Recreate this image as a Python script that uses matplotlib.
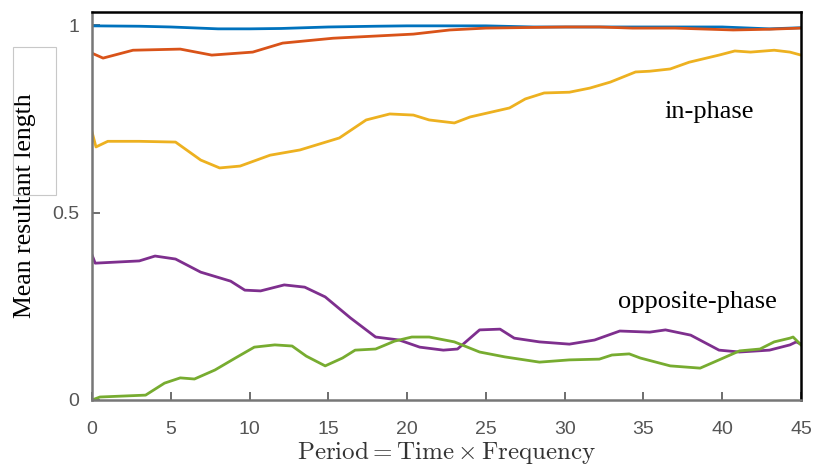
import numpy as np
import matplotlib
matplotlib.use("Agg")
import matplotlib.pyplot as plt
from matplotlib.patches import Rectangle

# mean resultant length vs period, five phase conditions
blue_x = [0, 3, 5, 8, 10, 12, 15, 18, 20, 25, 28, 30, 35, 40, 43, 45]
blue_y = [0.998, 0.997, 0.995, 0.990, 0.990, 0.991, 0.995, 0.997, 0.998, 0.998, 0.995, 0.995, 0.995, 0.995, 0.990, 0.993]

red_x = [0, 0.7, 2.6, 5.6, 7.6, 10.2, 12.1, 15.3, 20.4, 22.7, 25, 30.1, 32.2, 34.3, 37, 40.7, 43, 45]
red_y = [0.925, 0.912, 0.933, 0.936, 0.920, 0.928, 0.952, 0.965, 0.976, 0.987, 0.992, 0.995, 0.995, 0.992, 0.992, 0.987, 0.989, 0.992]

yellow_x = [0, 0.25, 1, 3, 5.3, 6.9, 8.1, 9.4, 11.3, 13.2, 15.7, 17.4, 18.9, 20.4, 21.4, 23.0, 24, 26.5,
            27.5, 28.7, 30.3, 31.6, 32.9, 34.5, 35.4, 36.7, 37.9, 39.8, 40.8, 41.8, 43.3, 44.3, 45]
yellow_y = [0.715, 0.675, 0.690, 0.690, 0.688, 0.640, 0.619, 0.624, 0.653, 0.667, 0.699, 0.747, 0.763, 0.760,
            0.747, 0.739, 0.755, 0.779, 0.803, 0.819, 0.821, 0.832, 0.848, 0.875, 0.877, 0.883, 0.901, 0.920,
            0.931, 0.928, 0.933, 0.928, 0.920]

purple_x = [0, 0.2, 3, 4, 5.3, 6.9, 8.8, 9.7, 10.7, 12.2, 13.5, 14.8, 16.4, 18.0, 19.5, 20.8, 22.3, 23.2,
            24.6, 25.9, 26.8, 28.4, 30.3, 31.9, 33.5, 35.4, 36.4, 38.0, 39.8, 41.1, 43, 44.3, 44.7, 45]
purple_y = [0.387, 0.365, 0.371, 0.384, 0.376, 0.341, 0.317, 0.293, 0.291, 0.307, 0.301, 0.275, 0.219, 0.168,
            0.160, 0.141, 0.133, 0.136, 0.187, 0.189, 0.165, 0.155, 0.149, 0.160, 0.184, 0.181, 0.187, 0.173,
            0.133, 0.128, 0.133, 0.147, 0.155, 0.149]

green_x = [0, 0.5, 3.4, 4.6, 5.6, 6.5, 7.8, 9.1, 10.3, 11.6, 12.7, 13.6, 14.8, 15.9, 16.7, 18.0, 19.2, 20.3,
           21.4, 23.0, 24.6, 26.2, 28.4, 30.3, 32.2, 33, 34.1, 34.8, 36.7, 38.6, 39.8, 41.1, 42.4, 43.3, 44.3,
           44.5, 45]
green_y = [0.0, 0.008, 0.013, 0.045, 0.059, 0.056, 0.080, 0.112, 0.141, 0.147, 0.144, 0.117, 0.091, 0.112,
           0.133, 0.136, 0.157, 0.168, 0.168, 0.155, 0.128, 0.115, 0.101, 0.107, 0.109, 0.120, 0.123, 0.112,
           0.091, 0.085, 0.107, 0.131, 0.136, 0.155, 0.165, 0.168, 0.147]

series = [
    (blue_x, blue_y, "#0072BD"),
    (red_x, red_y, "#D95319"),
    (yellow_x, yellow_y, "#EDB120"),
    (purple_x, purple_y, "#7E2F8E"),
    (green_x, green_y, "#77AC30"),
]

plt.rcParams["mathtext.fontset"] = "cm"

fig = plt.figure(figsize=(8.13, 4.68), dpi=100)
ax = fig.add_axes([0.1132, 0.1453, 0.8720, 0.8291])

for xs, ys, col in series:
    ax.plot(xs, ys, color=col, lw=2.0)

ax.set_xlim(0, 45)
ax.set_ylim(0, 1.035)
ax.set_xticks(np.arange(0, 46, 5))
ax.set_yticks([0, 0.5, 1])
ax.set_yticklabels(["0", "0.5", "1"])
ax.tick_params(direction="in", length=6, width=1.2, color="#555555",
               labelsize=14, labelcolor="#555555")
ax.tick_params(axis="x", pad=15)
ax.tick_params(axis="y", pad=9)
for lab in ax.get_xticklabels() + ax.get_yticklabels():
    lab.set_family("Liberation Sans")

ax.spines["left"].set_color("#777777")
ax.spines["bottom"].set_color("#777777")
ax.spines["top"].set_color("black")
ax.spines["right"].set_color("black")
for s in ax.spines.values():
    s.set_linewidth(1.8)

ax.set_xlabel(r"$\mathrm{Period} = \mathrm{Time} \times \mathrm{Frequency}$",
              fontsize=18, color="#333333", labelpad=1)
ax.set_ylabel("Mean resultant length", fontsize=18.5, family="Liberation Serif",
              color="black", labelpad=12)

ax.text(39.2, 0.768, "in-phase", fontsize=19, family="Liberation Serif",
        ha="center", va="center")
ax.text(38.4, 0.261, "opposite-phase", fontsize=19, family="Liberation Serif",
        ha="center", va="center")

# thin grey frame beside the y label
fig.patches.append(Rectangle((13 / 813, 1 - 195 / 468), 43 / 813, 148 / 468,
                             transform=fig.transFigure, fill=False,
                             edgecolor="#c8c8c8", lw=0.8))

fig.savefig("out.png", dpi=100)
